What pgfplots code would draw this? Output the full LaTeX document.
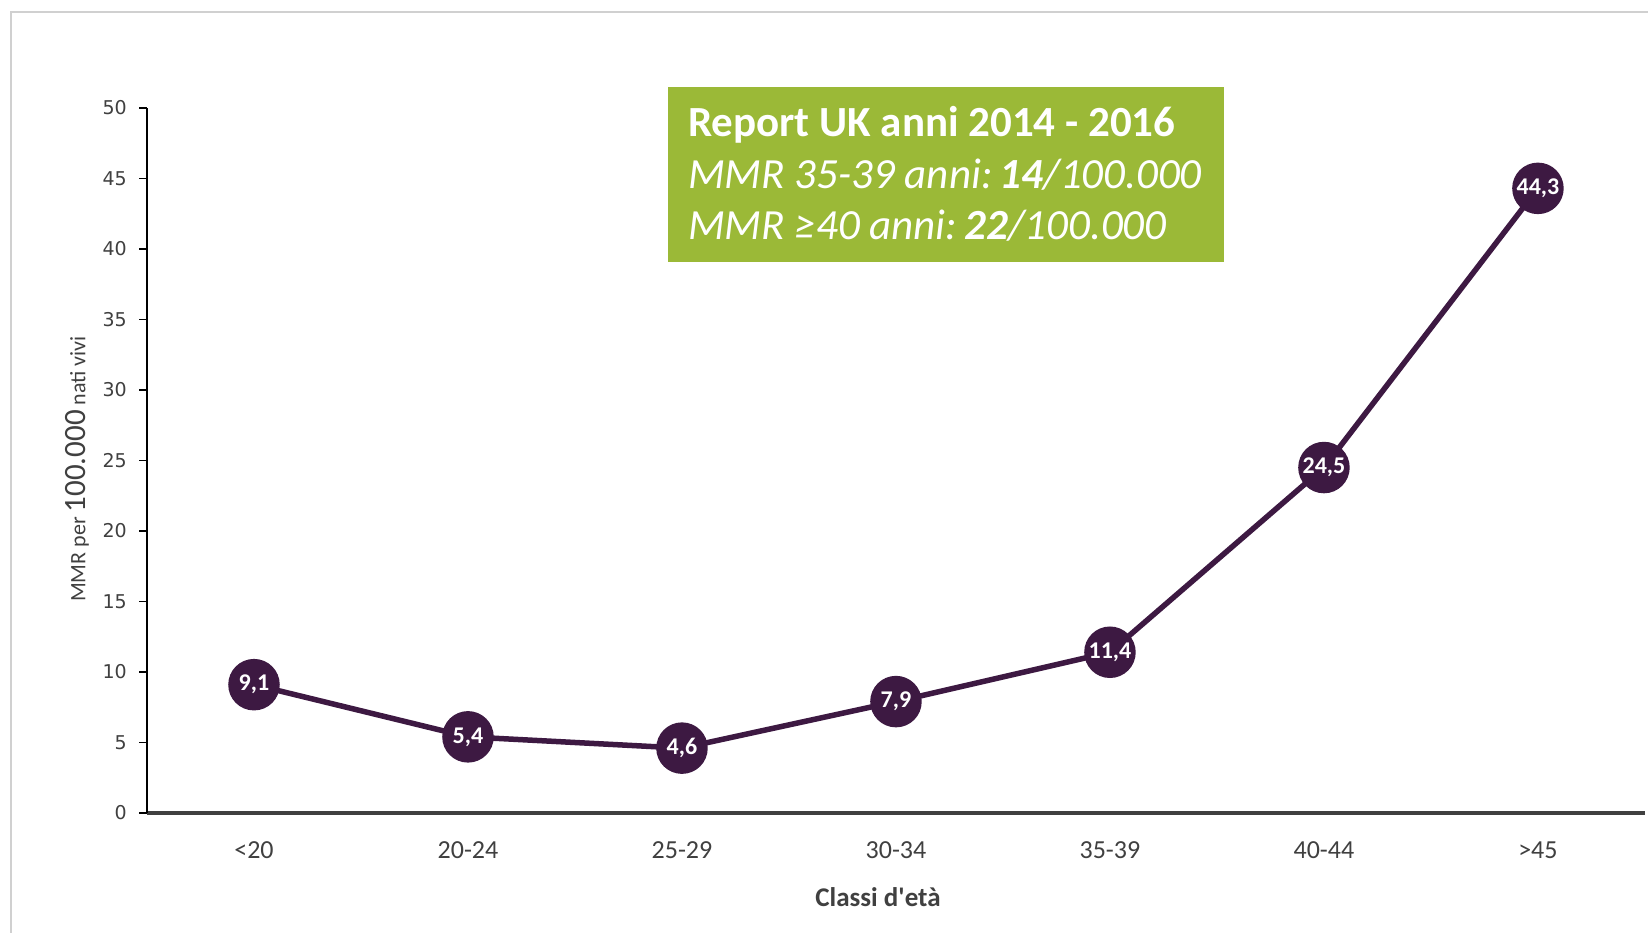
\documentclass[border=0pt]{standalone}
\usepackage{fontspec}
\setmainfont{Carlito}
\newfontfamily\plaincarlito{Carlito}[Ligatures=TeXOff]
\newfontfamily\dejavu{DejaVu Sans}
\usepackage{pgfplots}
\pgfplotsset{compat=1.18}
\definecolor{plum}{RGB}{61,25,66}
\definecolor{boxgreen}{RGB}{155,185,55}
\definecolor{txtgray}{RGB}{64,64,64}
\definecolor{framegray}{RGB}{208,208,208}

\begin{document}
\begin{tikzpicture}[x=1pt,y=1pt]
\useasboundingbox (0,0) rectangle (1648,933);
\fill[white] (0,0) rectangle (1648,933);
% outer frame
\draw[framegray, line width=2.5pt] (11,-20) -- (11,921) -- (1700,921);

\begin{axis}[
  at={(147pt,120pt)}, anchor=south west,
  scale only axis, width=1498pt, height=705pt,
  xmin=-0.5, xmax=6.5, ymin=0, ymax=50,
  clip=false,
  axis x line=bottom, axis y line=left,
  x axis line style={-, line width=3.5pt, draw=txtgray},
  y axis line style={-, line width=1.8pt, draw=black},
  xtick={0,1,2,3,4,5,6},
  xticklabels={<20,20-24,25-29,30-34,35-39,40-44,>45},
  x tick style={draw=none},
  ytick={0,5,...,50},
  tick align=outside,
  y tick style={line width=1.5pt, black},
  major tick length=8pt,
  /pgf/number format/assume math mode=true,
  xticklabel style={font=\fontsize{26}{30}\selectfont, text=txtgray, anchor=base, inner sep=0pt, yshift=-38pt},
  yticklabel style={font=\fontsize{19}{22}\selectfont\dejavu, text=txtgray, anchor=east, inner sep=0pt, xshift=-12pt},
  nodes near coords={\pgfmathprintnumber[use comma,fixed,fixed zerofill,precision=1]{\pgfplotspointmeta}},
  every node near coord/.append style={anchor=center, text=white, inner sep=0pt, font=\fontsize{24}{26}\selectfont\bfseries},
]
\addplot[plum, line width=5.5pt, mark=*, mark size=23pt, mark options={fill=plum, draw=none}]
  coordinates {(0,9.1) (1,5.4) (2,4.6) (3,7.9) (4,11.4) (5,24.5) (6,44.3)};
\end{axis}

% axis titles
\node[rotate=90, text=txtgray, inner sep=0pt] at (77,464)
  {\fontsize{22}{24}\selectfont MMR per {\fontsize{31}{33}\selectfont 100.000} nati vivi};
\node[text=txtgray, inner sep=0pt, font=\fontsize{27}{30}\selectfont\plaincarlito\bfseries] at (878,36) {Classi d'età};

% highlight box
\fill[boxgreen] (668,671) rectangle (1224,846);
\node[anchor=base west, inner sep=0pt, text=white, font=\fontsize{43}{50}\selectfont\bfseries] at (688,796) {Report UK anni 2014 - 2016};
\node[anchor=base west, inner sep=0pt, text=white, font=\fontsize{43}{50}\selectfont\itshape] at (688,744) {MMR 35-39 anni:\hspace{0.17em}\textbf{14}/100.000};
\node[anchor=base west, inner sep=0pt, text=white, font=\fontsize{43}{50}\selectfont\itshape] at (688,693) {MMR ≥40 anni:\hspace{0.17em}\textbf{22}/100.000};
\end{tikzpicture}
\end{document}
